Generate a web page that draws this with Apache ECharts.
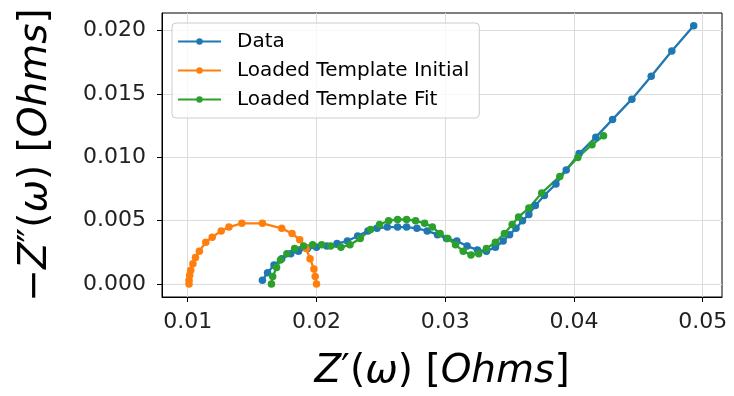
<!DOCTYPE html>
<html>
<head>
<meta charset="utf-8">
<script src="https://cdn.jsdelivr.net/npm/echarts@6/dist/echarts.min.js"></script>
<style>
  html, body { margin: 0; padding: 0; background: #fff; }
  #chart { width: 734px; height: 396px; }
</style>
</head>
<body>
<div id="chart"></div>
<script>
// Nyquist plot: [Z', -Z''] pairs
const dataPts = [
  [0.0158, 0.0003], [0.0162, 0.0009], [0.0167, 0.0015], [0.0173, 0.0020], [0.0180, 0.0024],
  [0.0186, 0.0026], [0.0193, 0.0028], [0.0200, 0.0029], [0.0208, 0.0030], [0.0216, 0.0032],
  [0.0224, 0.0034], [0.0232, 0.0038], [0.0240, 0.0042], [0.0247, 0.0044], [0.0255, 0.0045],
  [0.0263, 0.0045], [0.0270, 0.0045], [0.0278, 0.0044], [0.0286, 0.0042], [0.0294, 0.0039],
  [0.0301, 0.0036], [0.0309, 0.0034], [0.0317, 0.0030], [0.0325, 0.0027], [0.0332, 0.0026],
  [0.0339, 0.0029], [0.0345, 0.0034], [0.0350, 0.0039], [0.0355, 0.0044], [0.0360, 0.0050],
  [0.0365, 0.0055], [0.0370, 0.0062], [0.0377, 0.0070], [0.0386, 0.0079], [0.0394, 0.0090],
  [0.0404, 0.0103], [0.0417, 0.0116], [0.0430, 0.0130], [0.0445, 0.0146], [0.0460, 0.0164],
  [0.0476, 0.0184], [0.0493, 0.0204]
];
const initialPts = [
  [0.0101, 0.0000], [0.0101, 0.0003], [0.01015, 0.0007], [0.01023, 0.0011], [0.0104, 0.0016],
  [0.0106, 0.0021], [0.0109, 0.0026], [0.0114, 0.0033], [0.0119, 0.0037], [0.0126, 0.0042],
  [0.0132, 0.0045], [0.0142, 0.0048], [0.0158, 0.0048], [0.0173, 0.0044], [0.0181, 0.0040],
  [0.0187, 0.0035], [0.0192, 0.0028], [0.0195, 0.0020], [0.0198, 0.0012], [0.0199, 0.0006],
  [0.0200, 0.0000]
];
const fitPts = [
  [0.0165, 0.0000], [0.0166, 0.0006], [0.0169, 0.0013], [0.0172, 0.0019], [0.0177, 0.0024],
  [0.0183, 0.0028], [0.0190, 0.0030], [0.0197, 0.0031], [0.0204, 0.0031], [0.0211, 0.0030],
  [0.0219, 0.0029], [0.0226, 0.0031], [0.0234, 0.0036], [0.0242, 0.0043], [0.0249, 0.0047],
  [0.0256, 0.0050], [0.0263, 0.0051], [0.0270, 0.0051], [0.0277, 0.0050], [0.0284, 0.0048],
  [0.0290, 0.0045], [0.0296, 0.0040], [0.0302, 0.0036], [0.0308, 0.0031], [0.0314, 0.0026],
  [0.0320, 0.0023], [0.0326, 0.0024], [0.0332, 0.0028], [0.0339, 0.0033], [0.0346, 0.0040],
  [0.0352, 0.0047], [0.0357, 0.0053], [0.0365, 0.0060], [0.0375, 0.0072], [0.0389, 0.0085],
  [0.0403, 0.0100], [0.0414, 0.0110], [0.0423, 0.0117]
];
const seriesNames = ["Data", "Loaded Template Initial", "Loaded Template Fit"];
const xTicks = [0.01, 0.02, 0.03, 0.04, 0.05];
const yTicks = [0.0, 0.005, 0.01, 0.015, 0.02];

const FONT = "DejaVu Sans";
const gridColor = "#dcdcdc";
const colors = ["#1f77b4", "#ff7f0e", "#2ca02c"];

const mathRich = {
  i: { fontFamily: FONT, fontStyle: "italic", fontSize: 39, color: "#000" },
  n: { fontFamily: FONT, fontStyle: "normal", fontSize: 39, color: "#000" },
};

function lineSeries(name, pts, color) {
  return {
    name,
    type: "line",
    data: pts,
    symbol: "circle",
    symbolSize: 7.5,
    showSymbol: true,
    lineStyle: { width: 2.3, color },
    itemStyle: { color },
    emphasis: { disabled: true },
  };
}

const chart = echarts.init(document.getElementById("chart"), null, { renderer: "canvas" });
chart.setOption({
  animation: false,
  backgroundColor: "#fff",
  grid: {
    left: 162, right: 12, top: 13, bottom: 96,
    show: true, borderColor: "#000", borderWidth: 1, backgroundColor: "transparent",
  },
  legend: {
    orient: "vertical",
    left: 172, top: 23,
    padding: [8, 10, 8, 5],
    itemGap: 8,
    itemWidth: 43, itemHeight: 8,
    backgroundColor: "rgba(255,255,255,0.8)",
    borderColor: "#cccccc", borderWidth: 1, borderRadius: 4,
    textStyle: { fontFamily: FONT, fontSize: 20, color: "#000", padding: [0, 0, 0, 11], lineHeight: 21 },
    data: seriesNames,
  },
  xAxis: {
    type: "value",
    min: 0.008, max: 0.0515,
    name: "{i|Z}{n|′(}{i|ω}{n|) [}{i|Ohms}{n|]}",
    nameLocation: "middle",
    nameGap: 55,
    nameTextStyle: { rich: mathRich },
    axisLine: { show: true, onZero: false, lineStyle: { color: "#000", width: 1 } },
    axisTick: { show: true, length: 5, lineStyle: { color: "#000" }, customValues: xTicks },
    axisLabel: {
      fontFamily: FONT, fontSize: 22, color: "#222", margin: 14,
      customValues: xTicks,
      formatter: (v) => v.toFixed(2),
    },
    splitLine: { show: true, lineStyle: { color: gridColor, width: 1 } },
  },
  yAxis: {
    type: "value",
    min: -0.00102, max: 0.0214,
    name: "{n|−}{i|Z}{n|″(}{i|ω}{n|) [}{i|Ohms}{n|]}",
    nameLocation: "middle",
    nameGap: 107,
    nameRotate: 90,
    nameTextStyle: { rich: mathRich },
    axisLine: { show: true, onZero: false, lineStyle: { color: "#000", width: 1 } },
    axisTick: { show: true, length: 5, lineStyle: { color: "#000" }, customValues: yTicks },
    axisLabel: {
      fontFamily: FONT, fontSize: 22, color: "#222", margin: 16,
      customValues: yTicks,
      formatter: (v) => v.toFixed(3),
    },
    splitLine: { show: true, lineStyle: { color: gridColor, width: 1 } },
  },
  series: [
    lineSeries(seriesNames[0], dataPts, colors[0]),
    lineSeries(seriesNames[1], initialPts, colors[1]),
    lineSeries(seriesNames[2], fitPts, colors[2]),
  ],
});
</script>
</body>
</html>
